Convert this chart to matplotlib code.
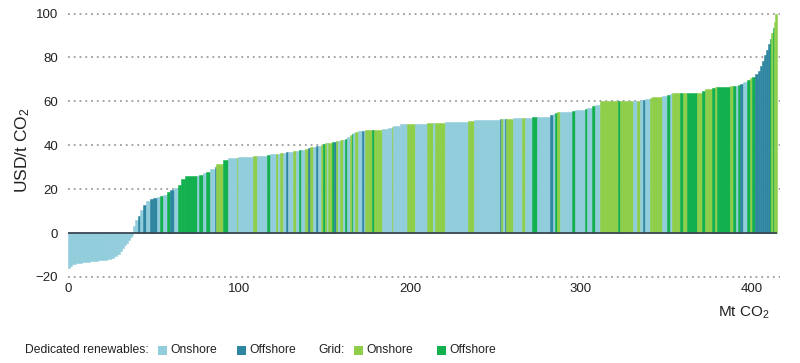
import numpy as np
import matplotlib
matplotlib.use("Agg")
import matplotlib.pyplot as plt
from matplotlib.patches import Rectangle

plt.rcParams['font.family'] = ['Liberation Sans', 'DejaVu Sans']
plt.rcParams['mathtext.fontset'] = 'custom'
plt.rcParams['mathtext.rm'] = 'Liberation Sans'
plt.rcParams['mathtext.it'] = 'Liberation Sans:italic'

# Cumulative abatement (Mt CO2) at the right edge of each block
ends = [1.2, 2.3, 4.7, 8.2, 12.9, 17.5, 22.8, 25.1, 26.9, 28.7, 30.4, 31.6, 32.7, 33.9, 35.1, 36.3, 37.4, 38.0,
        39.2, 40.9, 42.1, 43.9, 45.6, 48.0, 49.7, 52.0, 53.8, 55.6, 57.9, 59.6, 62.0, 64.3, 66.1, 68.4, 75.4,
        76.6, 78.9, 80.7, 83.0, 86.0, 86.5, 90.6, 93.6, 98.8, 99.7, 108.2, 110.5, 116.4, 118.1, 121.6, 122.8,
        124.0, 125.7, 127.5, 128.7, 131.6, 133.3, 135.1, 136.3, 138.6, 140.4, 141.5, 143.3, 145.0, 146.2, 148.0,
        149.1, 150.3, 151.5, 152.0, 154.4, 155.6, 156.7, 157.9, 159.1, 160.8, 162.0, 163.2, 164.9, 166.1, 166.7,
        167.8, 169.6, 171.9, 173.1, 173.7, 177.8, 178.9, 183.6, 187.1, 189.5, 190.1, 194.2, 198.2, 202.9, 209.9,
        213.5, 214.6, 220.5, 229.2, 233.9, 237.4, 252.6, 253.5, 254.4, 255.6, 256.4, 260.2, 265.5, 267.3, 271.3,
        274.3, 281.9, 283.6, 284.8, 286.0, 287.7, 294.7, 296.5, 302.3, 303.5, 306.4, 308.2, 311.1, 321.6, 322.8,
        330.4, 332.7, 334.5, 336.3, 337.4, 340.4, 341.5, 347.4, 350.3, 352.0, 353.2, 357.9, 359.6, 362.0, 367.8,
        370.8, 372.5, 376.6, 378.1, 379.5, 387.1, 388.9, 390.6, 391.8, 393.0, 394.7, 397.1, 398.8, 400.0, 401.8,
        403.5, 404.7, 405.8, 407.0, 408.2, 409.4, 410.5, 411.4, 412.3, 412.9, 413.5, 414.6]

# Abatement cost (USD/t CO2) of each block
costs = [-15.8, -15.0, -14.2, -13.6, -13.2, -12.8, -12.4, -11.8, -11.2, -10.5, -9.5, -8.0, -6.8, -5.6, -4.4, -3.2, -2.0, -0.8,
         3.0, 6.0, 8.0, 10.5, 13.0, 14.5, 15.5, 16.0, 16.5, 17.0, 17.5, 18.5, 19.5, 20.5, 22.0, 24.5, 26.0,
         26.0, 26.5, 27.2, 28.0, 29.2, 30.0, 31.6, 33.2, 34.2, 34.4, 34.8, 35.0, 35.3, 35.6, 35.8, 36.0,
         36.1, 36.3, 36.5, 36.7, 37.0, 37.3, 37.5, 37.8, 38.0, 38.3, 38.6, 39.0, 39.3, 39.5, 39.8,
         40.2, 40.5, 40.8, 41.0, 41.2, 41.4, 41.6, 41.8, 42.0, 42.3, 42.6, 43.0, 43.6, 44.5, 45.0,
         45.5, 46.0, 46.3, 46.5, 46.6, 46.8, 46.8, 46.9, 47.3, 48.0, 48.2, 48.6, 49.5, 49.8, 49.9,
         50.0, 50.1, 50.2, 50.4, 50.7, 51.0, 51.5, 51.8, 51.9, 52.0, 52.0, 52.1, 52.2, 52.4, 52.6,
         52.8, 53.0, 54.0, 54.3, 54.5, 55.0, 55.3, 55.8, 56.2, 56.5, 57.0, 57.8, 58.3, 60.2, 60.2,
         60.2, 60.2, 60.3, 60.5, 60.8, 61.0, 61.3, 61.8, 62.5, 63.0, 63.3, 63.7, 63.8, 63.8, 63.9,
         64.0, 64.8, 65.5, 66.0, 66.3, 66.7, 66.8, 66.9, 67.2, 67.5, 68.0, 69.0, 69.8, 70.5, 71.2,
         72.5, 74.0, 76.0, 78.5, 81.0, 83.5, 86.0, 88.5, 91.0, 93.5, 96.0, 100.0]

# Technology: 0 dedicated onshore, 1 dedicated offshore, 2 grid onshore, 3 grid offshore
cats = [0] * 18 + \
       [0, 0, 1, 0, 1, 0, 1, 1, 0, 3, 0, 3, 1, 0, 3, 3, 3,
        0, 3, 0, 3, 0, 1, 2, 3, 0, 2, 0, 2, 0, 3, 0, 2,
        0, 2, 0, 1, 0, 2, 0, 3, 0, 2, 1, 2, 0, 1, 0,
        2, 3, 2, 0, 2, 3, 1, 2, 0, 2, 0, 3, 0, 2, 3,
        0, 2, 0, 1, 0, 2, 3, 2, 0, 0, 2, 0, 0, 2, 0,
        2, 0, 2, 0, 0, 2, 0, 1, 2, 0, 1, 2, 0, 2, 0,
        3, 0, 1, 0, 3, 2, 0, 3, 0, 3, 0, 3, 0, 2, 3,
        2, 0, 2, 0, 1, 0, 2, 2, 0, 3, 0, 2, 3, 2, 3,
        2, 3, 2, 3, 2, 3, 2, 3, 0, 3, 1, 0, 3, 2, 3,
        1, 1, 1, 1, 1, 1, 1, 3, 2, 3, 2, 2]

tech_colors = ['#92cddc', '#2f86a0', '#8fce4b', '#12b04f']
legend_groups = ['Dedicated renewables:', 'Grid:']
legend_labels = ['Onshore', 'Offshore', 'Onshore', 'Offshore']

yticks = [-20, 0, 20, 40, 60, 80, 100]
xticks = [0, 100, 200, 300, 400]

ends_a = np.array(ends)
widths = np.diff(np.r_[0.0, ends_a])
lefts = ends_a - widths
cols = [tech_colors[c] for c in cats]

fig = plt.figure(figsize=(8, 3.63), dpi=100)
ax = fig.add_axes([0.085, 0.2309, 0.89, 0.744])

for y in yticks:
    if y != 0:
        ax.axhline(y, color='#9c9c9c', ls=(0, (1, 2.2)), lw=1.3, zorder=0)

ax.bar(lefts, costs, width=widths, align='edge', color=cols, edgecolor=cols,
       linewidth=0.4, zorder=2)
ax.plot([0, ends_a[-1]], [0, 0], color='#3b4754', lw=1.3, zorder=3, solid_capstyle='butt')

ax.set_xlim(0, 416.4)
ax.set_ylim(-21, 102)
for s in ax.spines.values():
    s.set_visible(False)
ax.set_yticks(yticks)
ax.set_yticklabels([f"{v}".replace('-', '\u2212') for v in yticks])
ax.set_xticks(xticks)
ax.tick_params(length=0, labelsize=9.5, colors='#222222')
ax.tick_params(axis='y', pad=7)
ax.tick_params(axis='x', pad=3)

fig.text(23 / 800, 1 - 150 / 363, 'USD/t CO$_2$', fontsize=12.5, rotation=90,
         ha='center', va='center', color='#222222')
fig.text(770 / 800, 1 - 313 / 363, 'Mt CO$_2$', fontsize=11, ha='right', va='center',
         color='#222222')

# Legend row
ly = 1 - 350 / 363
lfs = 8.7
fig.text(25 / 800, ly, legend_groups[0], fontsize=lfs, ha='left', va='center', color='#222222')
fig.text(318 / 800, ly, legend_groups[1], fontsize=lfs, ha='left', va='center', color='#222222')
sw_x = [158, 237, 354, 437]
sq = 9
for i, (sx, lab) in enumerate(zip(sw_x, legend_labels)):
    fig.patches.append(Rectangle((sx / 800, ly - (sq / 2) / 363), sq / 800, sq / 363,
                                 transform=fig.transFigure, facecolor=tech_colors[i],
                                 edgecolor='none'))
    fig.text((sx + sq + 3) / 800, ly, lab, fontsize=lfs, ha='left', va='center',
             color='#222222')

fig.savefig('out.png', dpi=100)
